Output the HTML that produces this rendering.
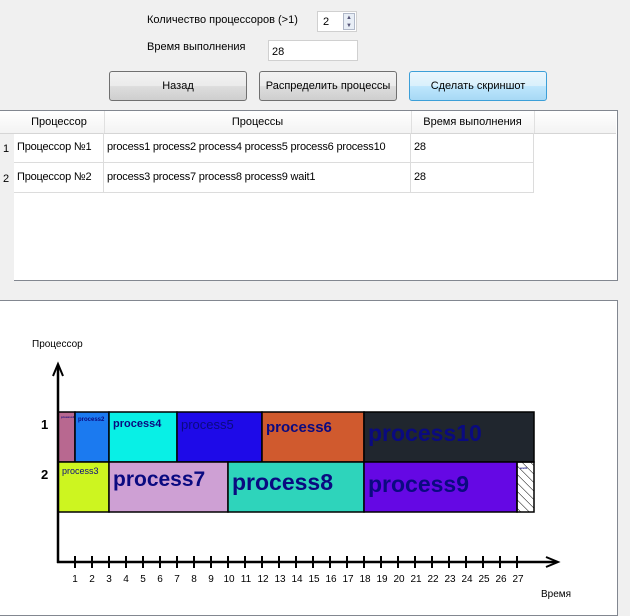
<!DOCTYPE html>
<html><head><meta charset="utf-8"><style>
body{margin:0;width:630px;height:616px;background:#f0f0f0;position:relative;overflow:hidden;font-family:"Liberation Sans","DejaVu Sans",sans-serif;font-size:11px;color:#000}
.a{position:absolute}
.btn{position:absolute;top:71px;height:28px;width:136px;border:1px solid #707070;border-radius:3px;background:linear-gradient(#f2f2f2 0%,#ebebeb 50%,#dddddd 51%,#cfcfcf 100%);text-align:center;line-height:28px;font-size:11px}
.cell{position:absolute;border-right:1px solid #dcdcdc;border-bottom:1px solid #dcdcdc;box-sizing:border-box;line-height:29px;padding-left:3px;white-space:nowrap;letter-spacing:-0.2px}
</style></head><body>
<div class="a" style="left:147px;top:14px">Количество процессоров (&gt;1)</div>
<div class="a" style="left:317px;top:11px;width:40px;height:21px;background:#fff;border:1px solid #d0d0d0;box-sizing:border-box"><span style="position:absolute;left:5px;top:4px">2</span><div style="position:absolute;right:1px;top:1px;width:12px;height:17px;background:#e8eef6;border:1px solid #b0b8c8;box-sizing:border-box;font-size:6px;line-height:8px;text-align:center;color:#557">▲<br>▼</div></div>
<div class="a" style="left:147px;top:41px">Время выполнения</div>
<div class="a" style="left:268px;top:40px;width:90px;height:21px;background:#fff;border:1px solid #d0d0d0;box-sizing:border-box"><span style="position:absolute;left:3px;top:5px">28</span></div>
<div class="btn" style="left:109px">Назад</div>
<div class="btn" style="left:259px">Распределить процессы</div>
<div class="btn" style="left:409px;border-color:#3c9fd8;background:linear-gradient(#eaf6fd 0%,#d9f0fc 50%,#bee6fd 51%,#a7d9f5 100%)">Сделать скриншот</div>

<div class="a" style="left:0;top:110px;width:618px;height:171px;background:#fff;border-right:1px solid #828790;border-bottom:1px solid #828790;border-top:1px solid #828790;box-sizing:border-box">
<div class="a" style="left:0;top:0;width:14px;height:170px;background:#f0f0f0"></div>
<div class="a" style="left:0;top:0;width:616px;height:22px;background:linear-gradient(#fff,#f3f3f3);border-bottom:1px solid #d5d5d5"></div>
<div class="a" style="left:14px;top:0;width:90px;height:22px;line-height:22px;text-align:center;border-right:1px solid #e0e0e0">Процессор</div>
<div class="a" style="left:104px;top:0;width:307px;height:22px;line-height:22px;text-align:center;border-right:1px solid #e0e0e0">Процессы</div>
<div class="a" style="left:411px;top:0;width:123px;height:22px;line-height:22px;text-align:center;border-right:1px solid #e0e0e0">Время выполнения</div>
<div class="a" style="left:3px;top:32px">1</div><div class="a" style="left:3px;top:62px">2</div>
<div class="cell" style="left:14px;top:22px;width:90px;height:30px">Процессор №1</div>
<div class="cell" style="left:104px;top:22px;width:307px;height:30px">process1 process2 process4 process5 process6 process10</div>
<div class="cell" style="left:411px;top:22px;width:123px;height:30px">28</div>
<div class="cell" style="left:14px;top:52px;width:90px;height:30px">Процессор №2</div>
<div class="cell" style="left:104px;top:52px;width:307px;height:30px">process3 process7 process8 process9 wait1</div>
<div class="cell" style="left:411px;top:52px;width:123px;height:30px">28</div>
</div>

<div class="a" style="left:0;top:300px;width:618px;height:316px;background:#fff;border:1px solid #828790;border-left:none;box-sizing:border-box"></div>
<svg class="a" style="left:0;top:0" width="630" height="616" font-family="Liberation Sans, DejaVu Sans, sans-serif">
<defs><pattern id="h" width="6" height="6" patternUnits="userSpaceOnUse" patternTransform="rotate(-45)"><line x1="0" y1="0" x2="0" y2="6" stroke="#000" stroke-width="1"/></pattern></defs>
<text x="32" y="347" font-size="10">Процессор</text>
<text x="41" y="429" font-size="13" font-weight="bold">1</text>
<text x="41" y="479" font-size="13" font-weight="bold">2</text>
<g stroke="#000" stroke-width="1.5">
<rect x="58" y="412" width="17" height="50" fill="#b86890"/>
<rect x="75" y="412" width="34" height="50" fill="#1b7af0"/>
<rect x="109" y="412" width="68" height="50" fill="#08f0e6"/>
<rect x="177" y="412" width="85" height="50" fill="#1e0ae8"/>
<rect x="262" y="412" width="102" height="50" fill="#d05a2e"/>
<rect x="364" y="412" width="170" height="50" fill="#20262e"/>
<rect x="58" y="462" width="51" height="50" fill="#cdf520"/>
<rect x="109" y="462" width="119" height="50" fill="#cea0d4"/>
<rect x="228" y="462" width="136" height="50" fill="#2ed4bb"/>
<rect x="364" y="462" width="153" height="50" fill="#6508e4"/>
<rect x="517" y="462" width="17" height="50" fill="url(#h)"/>
</g>
<g fill="#0a0a80" font-weight="bold">
<text x="61" y="418" font-size="3">process1</text>
<text x="78" y="421" font-size="6">process2</text>
<text x="113" y="427" font-size="11">process4</text>
<text x="181" y="429" font-size="13" font-weight="normal">process5</text>
<text x="266" y="432" font-size="15">process6</text>
<text x="368" y="441" font-size="23">process10</text>
<text x="62" y="474" font-size="9" font-weight="normal">process3</text>
<text x="113" y="486" font-size="21">process7</text>
<text x="232" y="490" font-size="23">process8</text>
<text x="368" y="492" font-size="23">process9</text>
<text x="520" y="469" font-size="3">wait1</text>
</g>
<g stroke="#000" stroke-width="2.5" fill="none">
<line x1="58" y1="366" x2="58" y2="563"/>
<line x1="57" y1="562" x2="556" y2="562"/>
<polyline points="53,376 58,364 63,376" stroke-width="2"/>
<polyline points="546,557 558,562 546,567" stroke-width="2"/>
</g>
<g stroke="#000" stroke-width="2" id="ticks"></g>
<g font-size="10" id="labels" text-anchor="middle"></g>
<text x="541" y="597" font-size="10">Время</text>
</svg>
<script>
var t=document.getElementById('ticks'),l=document.getElementById('labels'),ns='http://www.w3.org/2000/svg';
for(var k=1;k<=27;k++){var x=58+17*k;var ln=document.createElementNS(ns,'line');ln.setAttribute('x1',x);ln.setAttribute('x2',x);ln.setAttribute('y1',556);ln.setAttribute('y2',568);t.appendChild(ln);
var tx=document.createElementNS(ns,'text');tx.setAttribute('x',x+(k>=10?1:0));tx.setAttribute('y',582);tx.textContent=k;l.appendChild(tx);}
</script>
</body></html>
